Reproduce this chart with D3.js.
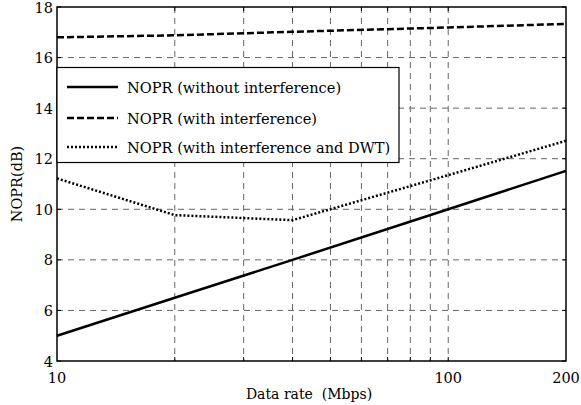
<!DOCTYPE html>
<html><head><meta charset="utf-8">
<script src="https://cdn.jsdelivr.net/npm/d3@7/dist/d3.min.js"></script>
<style>body{margin:0;background:#fff}</style>
</head><body><svg id="c" width="581" height="405"></svg>
<script>
const dataRate = [10, 20, 40, 100, 200];
const noprWithout = [5.0, 6.5, 8.0, 10.0, 11.52];
const noprWith = [16.8, 16.88, 17.02, 17.19, 17.33];
const noprDWT = [11.22, 9.77, 9.57, 11.35, 12.71];
const xGrid = [20, 30, 40, 50, 60, 70, 80, 90, 100];
const xTickLabels = [10, 100, 200];
const yTicks = [4, 6, 8, 10, 12, 14, 16, 18];
const seriesNames = ["NOPR (without interference)", "NOPR (with interference)", "NOPR (with interference and DWT)"];

const FONT = "'DejaVu Serif'";
const svg = d3.select("#c");
const L = 57, R = 566, T = 7, B = 361;
const x = d3.scaleLog().domain([10, 200]).range([L, R]);
const y = d3.scaleLinear().domain([4, 18]).range([B, T]);

const g = svg.append("g");
g.selectAll(".gx").data(xGrid).join("line")
  .attr("x1", d => x(d)).attr("x2", d => x(d)).attr("y1", T).attr("y2", B)
  .attr("stroke", "#666").attr("stroke-width", 1).attr("stroke-dasharray", "6,5");
g.selectAll(".gy").data(yTicks.filter(d => d > 4 && d < 18)).join("line")
  .attr("y1", d => y(d)).attr("y2", d => y(d)).attr("x1", L).attr("x2", R)
  .attr("stroke", "#666").attr("stroke-width", 1).attr("stroke-dasharray", "6,5");

const tk = 4;
xGrid.forEach(d => {
  g.append("line").attr("x1", x(d)).attr("x2", x(d)).attr("y1", B).attr("y2", B - tk).attr("stroke", "#000");
  g.append("line").attr("x1", x(d)).attr("x2", x(d)).attr("y1", T).attr("y2", T + tk).attr("stroke", "#000");
});
yTicks.forEach(d => {
  g.append("line").attr("x1", L).attr("x2", L + tk).attr("y1", y(d)).attr("y2", y(d)).attr("stroke", "#000");
  g.append("line").attr("x1", R).attr("x2", R - tk).attr("y1", y(d)).attr("y2", y(d)).attr("stroke", "#000");
});

const line = d3.line().x((d, i) => x(dataRate[i])).y(d => y(d));
const styles = [
  {data: noprWithout, dash: null},
  {data: noprWith, dash: "7,3"},
  {data: noprDWT, dash: "2,2"}
];
styles.forEach(s => {
  g.append("path").attr("d", line(s.data)).attr("fill", "none").attr("stroke", "#000")
    .attr("stroke-width", 2.5).attr("stroke-dasharray", s.dash);
});

g.append("rect").attr("x", L).attr("y", T).attr("width", R - L).attr("height", B - T)
  .attr("fill", "none").attr("stroke", "#000").attr("stroke-width", 1.5);

g.selectAll(".yl").data(yTicks).join("text").attr("font-family", FONT)
  .attr("x", L - 4).attr("y", d => y(d) + 5.5).attr("text-anchor", "end").attr("font-size", 14.5).text(d => d);
g.selectAll(".xl").data(xTickLabels).join("text").attr("font-family", FONT)
  .attr("x", d => x(d)).attr("y", 383).attr("text-anchor", "middle").attr("font-size", 14.5).text(d => d);

svg.append("text").attr("font-family", FONT).attr("x", 309).attr("y", 399).attr("text-anchor", "middle").attr("font-size", 14).style("white-space", "pre").text("Data rate  (Mbps)");
svg.append("text").attr("font-family", FONT).attr("transform", `translate(22,${(T + B) / 2}) rotate(-90)`).attr("text-anchor", "middle").attr("font-size", 14.5).text("NOPR(dB)");

const lg = svg.append("g");
lg.append("rect").attr("x", L).attr("y", 67.5).attr("width", 399 - L).attr("height", 95).attr("fill", "#fff").attr("stroke", "#000").attr("stroke-width", 1.2);
const rowY = [87, 118, 147];
styles.forEach((s, i) => {
  lg.append("line").attr("x1", 67).attr("x2", 118).attr("y1", rowY[i]).attr("y2", rowY[i])
    .attr("stroke", "#000").attr("stroke-width", 2.5).attr("stroke-dasharray", s.dash);
  lg.append("text").attr("font-family", FONT).attr("x", 127).attr("y", rowY[i] + 6).attr("font-size", 14.6).text(seriesNames[i]);
});
</script></body></html>
